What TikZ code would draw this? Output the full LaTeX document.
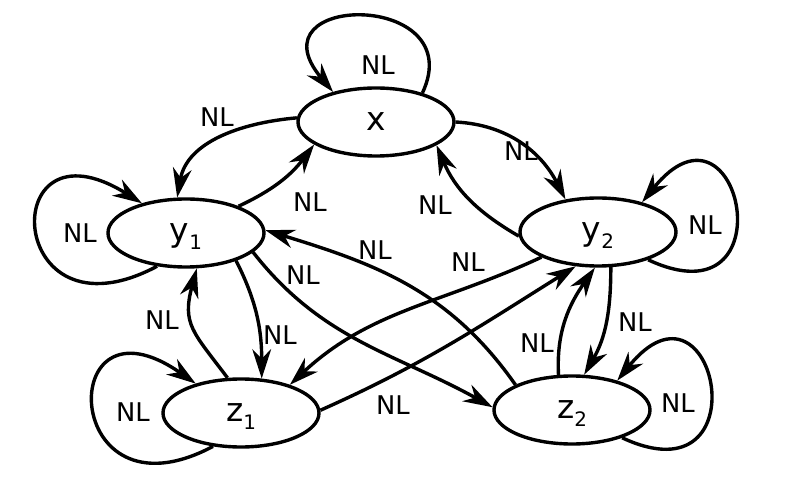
\documentclass[tikz,border=0pt]{standalone}
\usepackage{fontspec}
\setmainfont{DejaVu Sans}
\usetikzlibrary{shapes.geometric,arrows.meta}
\newcommand{\subidx}[1]{\raisebox{-7pt}{\fontsize{17}{17}\selectfont #1}}

\begin{document}
\begin{tikzpicture}[x=0.03cm, y=0.03cm, line width=2.9pt,
      state/.style = {shape=ellipse, draw, minimum width=4.68cm,
        minimum height=2.04cm, inner sep=0pt,
        font=\fontsize{28}{28}\selectfont, text height=15pt, text depth=0pt},
      lbl/.style = {inner sep=0pt, font=\fontsize{22}{22}\selectfont},
      >={Stealth[length=25pt, width=16pt, inset=8pt]}]
  \useasboundingbox (0,0) rectangle (811,-488);
  % states
  \node[state] (x)  at (376,-122) {x};
  \node[state] (y1) at (186,-233) {y\subidx{1}};
  \node[state] (y2) at (598,-232) {y\subidx{2}};
  \node[state] (z1) at (241,-413) {z\subidx{1}};
  \node[state] (z2) at (572,-410) {z\subidx{2}};
  % self loops
  \draw[->] (x.32) to[out=65, in=130, out distance=3.4cm, in distance=3.9cm] (x.145);
  \draw[->] (y1.229) to[out=208, in=148, distance=5.2cm] (y1.146);
  \draw[->] (y2.331) to[out=335, in=51, distance=4.7cm] (y2.34);
  \draw[->] (z1.230) to[out=208, in=145, distance=5.2cm] (z1.147);
  \draw[->] (z2.331) to[out=335, in=51, distance=4.7cm] (z2.33);
  % transitions
  \draw[->] (x.177) to[out=185, in=80] (y1.104);
  \draw[->] (y1.27) to[out=25, in=233] (x.200);
  \draw[->] (x.0) to[out=-3, in=117] (y2.135);
  \draw[->] (y2.183) to[out=150, in=293] (x.339);
  \draw[->] (y1.331) to[out=297, in=90] (z1.59);
  \draw[->] (z1.111) to[out=127, in=255, looseness=1.3] (y1.287);
  \draw[->] (y2.290) to[out=270, in=60] (z2.71);
  \draw[->] (z2.111) to[out=93, in=235] (y2.265);
  \draw[->] (y1.344) to[out=308, in=151] (z2.178);
  \draw[->] (z2.156) to[out=125, in=343] (y1.2);
  \draw[->] (y2.204) to[out=205, in=43] (z1.30);
  \draw[->] (z1.2) to[out=24, in=212] (y2.237);
  % labels
  \node[lbl] (lxx)   at (378,-65)  {NL};
  \node[lbl] (lxy1)  at (217,-117) {NL};
  \node[lbl] (ly1x)  at (310,-202) {NL};
  \node[lbl] (lxy2)  at (521,-151) {NL};
  \node[lbl] (ly2x)  at (435,-205) {NL};
  \node[lbl] (ly1y1) at (80,-233)  {NL};
  \node[lbl] (ly2y2) at (705,-225) {NL};
  \node[lbl] (ly1z1) at (280,-335) {NL};
  \node[lbl] (lz1y1) at (162,-320) {NL};
  \node[lbl] (ly2z2) at (635,-322) {NL};
  \node[lbl] (lz2y2) at (537,-343) {NL};
  \node[lbl] (ly1z2) at (303,-275) {NL};
  \node[lbl] (lz2y1) at (375,-250) {NL};
  \node[lbl] (ly2z1) at (468,-262) {NL};
  \node[lbl] (lz1y2) at (393,-405) {NL};
  \node[lbl] (lz1z1) at (133,-412) {NL};
  \node[lbl] (lz2z2) at (678,-403) {NL};
\end{tikzpicture}
\end{document}
